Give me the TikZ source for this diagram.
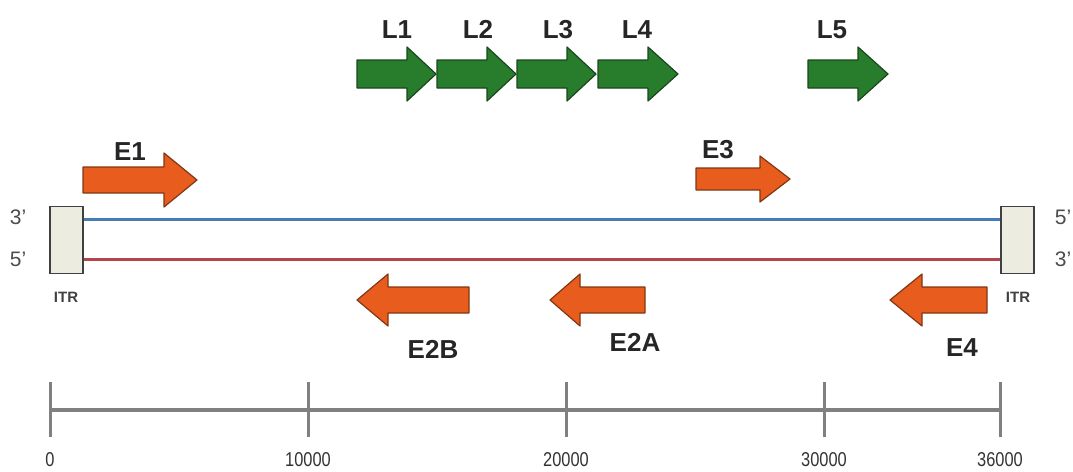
\documentclass[tikz,border=0pt]{standalone}
\usepackage{fontspec}
\setmainfont{Liberation Sans}
\definecolor{gfill}{RGB}{40,125,45}
\definecolor{gdraw}{RGB}{25,70,28}
\definecolor{ofill}{RGB}{232,92,30}
\definecolor{odraw}{RGB}{130,55,20}
\definecolor{bline}{RGB}{70,125,185}
\definecolor{rline}{RGB}{180,70,75}
\definecolor{itrfill}{RGB}{236,236,224}
\begin{document}
\begin{tikzpicture}[x=1pt,y=-1pt,
  garr/.style={fill=gfill, draw=gdraw, line width=1.2pt, line join=round},
  oarr/.style={fill=ofill, draw=odraw, line width=1.2pt, line join=round},
  lbl/.style={font=\fontsize{26}{26}\selectfont\bfseries, text=black!85, inner sep=0pt, anchor=base},
  endlbl/.style={font=\fontsize{21}{21}\selectfont, text=black!70, inner sep=0pt, anchor=base},
  itr/.style={draw=black!75, fill=itrfill, line width=1.3pt, minimum width=33pt, minimum height=67pt, inner sep=0pt},
  itrlbl/.style={font=\fontsize{15}{15}\selectfont\bfseries, text=black!75, inner sep=0pt, anchor=base},
  scl/.style={draw=black!50, line width=3.5pt},
  numlbl/.style={font=\fontsize{20}{20}\selectfont, text=black!80, inner sep=0pt, anchor=base}]
\useasboundingbox (0,0) rectangle (1073,471);
\newcommand\RArr[7]{\draw[#1] (#2,#5-#6) -- (#3,#5-#6) -- (#3,#5-#7) -- (#4,#5) -- (#3,#5+#7) -- (#3,#5+#6) -- (#2,#5+#6) -- cycle;}
% green late genes
\RArr{garr}{357}{407}{436}{74}{14}{27}
\RArr{garr}{437}{487}{516}{74}{14}{27}
\RArr{garr}{517}{567}{596}{74}{14}{27}
\RArr{garr}{598}{648}{678}{74}{14}{27}
\RArr{garr}{808}{858}{888}{74}{14}{27}
\node[lbl] (l1) at (397,38) {L1};
\node[lbl] (l2) at (478,38) {L2};
\node[lbl] (l3) at (558,38) {L3};
\node[lbl] (l4) at (637,38) {L4};
\node[lbl] (l5) at (832,38) {L5};
% early genes
\RArr{oarr}{83}{164}{197}{180}{13}{27}
\RArr{oarr}{696}{760}{790}{179}{11}{23}
\RArr{oarr}{469}{388}{357}{300}{13}{26}
\RArr{oarr}{645}{580}{550}{300}{13}{26}
\RArr{oarr}{987}{922}{890}{300}{13}{26}
\node[lbl] (e1) at (130,160) {E1};
\node[lbl] (e3) at (718,158) {E3};
\node[lbl] (e2b) at (433,358) {E2B};
\node[lbl] (e2a) at (635,351) {E2A};
\node[lbl] (e4) at (962,356) {E4};
% genome strands
\node[itr] (itrL) at (66.5,240) {};
\node[itr] (itrR) at (1017.5,240) {};
\draw[draw=bline, line width=3pt] (itrL.east |- 0,219) -- (itrR.west |- 0,219);
\draw[draw=rline, line width=3pt] (itrL.east |- 0,259) -- (itrR.west |- 0,259);
\node[endlbl] (l3p) at (18,224) {3'};
\node[endlbl] (l5p) at (18,266) {5'};
\node[endlbl] (r5p) at (1063,224) {5'};
\node[endlbl] (r3p) at (1063,266) {3'};
\node[itrlbl] (itrLl) at (66,302) {ITR};
\node[itrlbl] (itrRl) at (1018,302) {ITR};
% scale bar
\coordinate (s0) at (50,410);
\coordinate (s36) at (1000,410);
\draw[scl] (s0) -- (s36);
\foreach \x/\t/\n in {50/0/a,308/10000/b,566/20000/c,824/30000/d,1000/36000/e}{
  \draw[scl, line width=3pt] (\x,382) -- (\x,437);
  \node[numlbl] (n\n) at (\x,466) {\scalebox{0.82}[1]{\t}};
}
\end{tikzpicture}
\end{document}
